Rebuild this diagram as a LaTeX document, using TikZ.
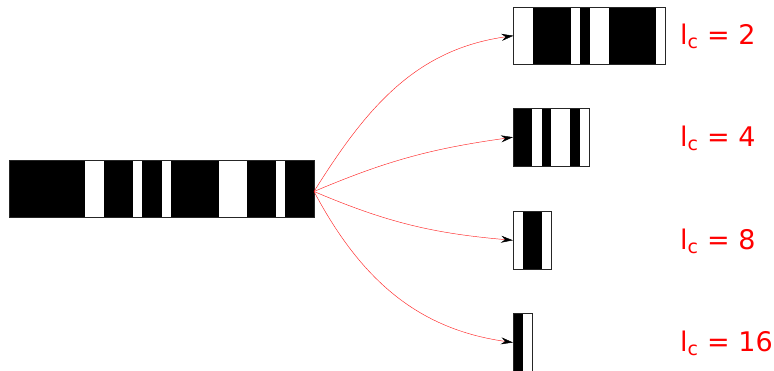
\documentclass[tikz,border=0pt]{standalone}
\usepackage{fontspec}
\setmainfont{DejaVu Sans}
\usetikzlibrary{arrows.meta,calc}
\newcommand\barstripes[3]{%
  \foreach \a/\b in {#3} \fill[black] ($(#1.south west)+(\a*#2,0)$) rectangle ($(#1.north west)+(\b*#2,0)$);
  \draw[edge] (#1.south west) rectangle (#1.north east);}
\begin{document}
\begin{tikzpicture}[x=1pt,y=1pt,
  bar/.style={draw=black!85,line width=0.7pt,fill=white,inner sep=0pt,outer sep=0pt,minimum height=57.5pt},
  edge/.style={draw=black!85,line width=0.7pt},
  lab/.style={text=red,font=\fontsize{27}{31}\selectfont,anchor=base west,inner sep=0pt},
  link/.style={draw=red!85,line width=0.45pt,-{Stealth[black,length=12pt,width=7pt,inset=4pt]}}]
\useasboundingbox (0,0) rectangle (774,370);
% bars
\node[bar,minimum width=305pt] (main) at (161.5,181.25) {};
\barstripes{main}{9.53125}{0/8,10/13,14/16,17/22,25/28,29/32}
\node[bar,minimum width=152pt] (b2) at (589.5,334.3) {};
\barstripes{b2}{9.5}{2/6,7/8,10/15}
\node[bar,minimum width=76pt] (b4) at (551,232.8) {};
\barstripes{b4}{9.5}{0/2,3/4,6/7}
\node[bar,minimum width=38pt] (b8) at (532,129.7) {};
\barstripes{b8}{9.5}{1/3}
\node[bar,minimum width=19pt] (b16) at (522.5,27.5) {};
\barstripes{b16}{9.5}{0/1}
% labels
\node[lab] (l2) at (680,325) {l\textsubscript{c} = 2};
\node[lab] (l4) at (680,223.3) {l\textsubscript{c} = 4};
\node[lab] (l8) at (680,120.7) {l\textsubscript{c} = 8};
\node[lab] (l16) at (680,18.3) {l\textsubscript{c} = 16};
% connectors
\coordinate (src) at (314,178.5);
\draw[link] (src) to[out=58,in=188] (b2.west);
\draw[link] (src) to[out=23,in=188] (b4.west);
\draw[link] (src) to[out=-23,in=175] (b8.west);
\draw[link] (src) to[out=-62,in=172] (b16.west);
\end{tikzpicture}
\end{document}
